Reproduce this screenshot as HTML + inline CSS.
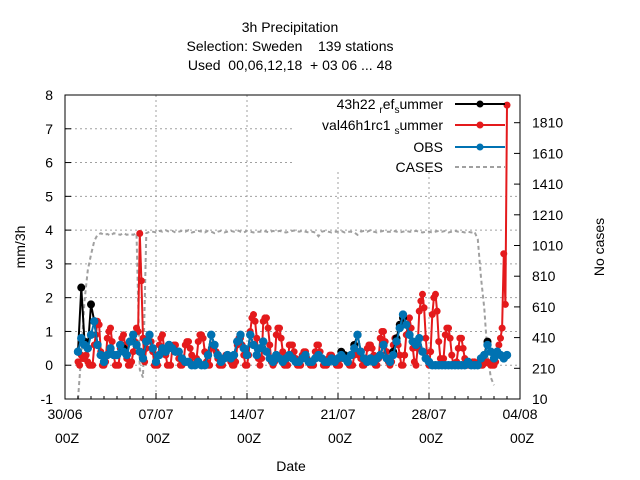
<!DOCTYPE html>
<html><head><meta charset="utf-8"><style>
body{margin:0;background:#fff}
svg{display:block;font-family:"Liberation Sans",sans-serif}
</style></head><body>
<svg id="chart" width="640" height="480" viewBox="0 0 640 480">
<g font-size="14" text-anchor="middle" fill="#000">
<text x="290" y="32">3h Precipitation</text>
<text x="290" y="51" xml:space="preserve">Selection: Sweden    139 stations</text>
<text x="290" y="70" xml:space="preserve">Used  00,06,12,18  + 03 06 ... 48</text>
<text x="291" y="471">Date</text>
<text transform="translate(25,247) rotate(-90)">mm/3h</text>
<text transform="translate(604,247) rotate(-90)">No cases</text>
</g>
<g id="grid"></g>
<g id="series"></g>
<g id="axes"></g>
<g id="legend"></g>
</svg>
<script>
const days0 = 1; // first sample at 01/07 00Z
const xTickLabels = ["30/06","07/07","14/07","21/07","28/07","04/08"];
const yTickLabels = [-1,0,1,2,3,4,5,6,7,8];
const y2TickLabels = [10,210,410,610,810,1010,1210,1410,1610,1810];
// 6-hourly
const ref = [0.4,2.3,0.7,0.5, 1.8,1.3,0.6,0.3, 0.1,0.3,0.5,0.3, 0.3,0.6,0.5,0.3, 0.7,0.9,0.6,0.4, 0.2,0.7,0.9,0.5, 0.1,0.3,0.5,0.4, 0.6,0.5,0.4,0.4, 0.2,0.1,0.1,0.0, 0.0,0.1,0.0,0.0, 0.3,0.9,0.6,0.3, 0.1,0.2,0.3,0.2, 0.3,0.7,0.9,0.5, 0.3,0.9,0.6,0.3, 0.5,0.7,0.4,0.2, 0.1,0.3,0.2,0.1, 0.2,0.3,0.2,0.1, 0.1,0.2,0.3,0.1, 0.1,0.2,0.3,0.2, 0.1,0.1,0.2,0.1, 0.2,0.4,0.3,0.1, 0.3,0.6,0.9,0.4, 0.2,0.1,0.2,0.1, 0.2,0.3,0.6,0.2, 0.1,0.4,0.8,1.2, 1.4,1.2,0.9,0.7, 0.6,0.8,0.4,0.2, 0.1,0.0,0.0,0.0, 0.0,0.0,0.0,0.0, 0.0,0.0,0.0,0.0, 0.1,0.0,0.0,0.0, 0.2,0.3,0.7,0.4, 0.2,0.4,0.3,0.2, 0.3];
// 3-hourly
const exp = [
0.1,0.0,0.3,0.2,0.2,0.3,0.1,0.0,
0.0,0.0,0.6,0.9,1.3,1.2,0.4,0.0,
0.0,0.1,0.8,1.0,1.1,0.7,0.3,0.0,
0.0,0.0,0.5,0.8,0.9,0.6,0.2,0.0,
0.0,0.1,0.4,0.7,1.1,1.0,3.9,2.5,
0.8,0.1,0.5,0.8,0.9,0.7,0.4,0.0,
0.0,0.0,0.6,0.8,0.9,0.5,0.3,0.0,
0.0,0.0,0.5,0.6,0.6,0.4,0.2,0.0,
0.0,0.1,0.6,0.7,0.7,0.5,0.3,0.0,
0.0,0.2,0.7,0.9,0.9,0.8,0.4,0.1,
0.0,0.0,0.5,0.6,0.6,0.4,0.2,0.0,
0.0,0.0,0.2,0.3,0.3,0.2,0.1,0.0,
0.0,0.1,0.6,0.8,0.8,0.6,0.3,0.0,
0.0,0.3,1.0,1.4,1.5,1.3,0.8,0.2,
0.0,0.2,1.3,1.4,1.4,1.1,0.6,0.1,
0.0,0.1,0.9,1.1,1.1,0.8,0.4,0.0,
0.0,0.0,0.6,0.6,0.6,0.4,0.2,0.0,
0.0,0.0,0.3,0.4,0.4,0.2,0.1,0.0,
0.0,0.0,0.4,0.6,0.6,0.4,0.2,0.0,
0.0,0.0,0.2,0.3,0.3,0.2,0.1,0.0,
0.0,0.0,0.2,0.3,0.3,0.2,0.1,0.0,
0.0,0.0,0.3,0.4,0.4,0.3,0.2,0.0,
0.0,0.1,0.5,0.6,0.6,0.5,0.3,0.0,
0.0,0.2,0.8,1.0,1.0,0.7,0.4,0.1,
0.0,0.1,0.6,0.8,0.8,0.6,0.3,0.0,
0.0,0.3,0.9,1.2,1.4,1.1,0.5,0.1,
0.0,0.5,1.6,1.9,2.1,1.7,0.8,0.2,
0.0,0.4,1.5,2.0,2.1,1.6,0.7,0.2,
0.0,0.2,0.9,1.1,1.1,0.8,0.3,0.0,
0.0,0.1,0.5,0.8,0.8,0.5,0.2,0.0,
0.0,0.0,0.05,0.1,0.1,0.05,0.0,0.0,
0.0,0.0,0.05,0.1,0.1,0.05,0.0,0.0,
0.0,0.1,0.4,0.6,0.8,1.1,3.3,1.8,
7.7];
const obs = [0.4,0.8,0.6,0.5, 0.9,1.3,0.6,0.3, 0.1,0.3,0.5,0.3, 0.3,0.6,0.4,0.3, 0.7,0.9,0.6,0.4, 0.2,0.7,0.9,0.5, 0.1,0.3,0.5,0.4, 0.6,0.5,0.4,0.4, 0.2,0.1,0.1,0.0, 0.0,0.1,0.0,0.0, 0.3,0.9,0.6,0.3, 0.1,0.2,0.3,0.2, 0.3,0.7,0.9,0.5, 0.3,0.9,0.6,0.3, 0.5,0.7,0.4,0.2, 0.1,0.3,0.2,0.1, 0.2,0.3,0.2,0.1, 0.1,0.2,0.3,0.1, 0.1,0.2,0.3,0.2, 0.1,0.1,0.2,0.1, 0.2,0.3,0.2,0.1, 0.3,0.5,0.9,0.4, 0.2,0.1,0.2,0.1, 0.2,0.3,0.6,0.2, 0.1,0.3,0.7,1.1, 1.5,1.2,0.9,0.7, 0.6,0.8,0.4,0.2, 0.1,0.0,0.0,0.0, 0.0,0.0,0.0,0.0, 0.0,0.0,0.0,0.0, 0.1,0.0,0.0,0.0, 0.2,0.3,0.6,0.4, 0.2,0.4,0.3,0.2, 0.3];
const cases = [10,300,650,850, 950,1040,1080,1090, 1080,1085,1075,1090, 1085,1080,1090,1080, 1085,1080,1090,200, 150,1090,1100,1100, 1095,1105,1100,1110, 1100,1105,1095,1100, 1105,1100,1110,1095, 1100,1105,1100,1095, 1105,1100,1090,1100, 1105,1095,1100,1105, 1100,1110,1100,1095, 1105,1100,1095,1100, 1100,1105,1100,1095, 1105,1100,1105,1100, 1095,1100,1105,1110, 1100,1105,1100,1095, 1100,1095,1070,1100, 1105,1100,1095,1100, 1100,1105,1095,1100, 1100,1095,1080,1100, 1105,1100,1110,1100, 1095,1100,1105,1100, 1100,1105,1100,1095, 1100,1105,1100,1100, 1105,1100,1095,1100, 1100,1095,1100,1105, 1100,1105,1095,1100, 1105,1100,1100,1095, 1100,1095,1100,1050, 800,600,300,150, 100];

const NS="http://www.w3.org/2000/svg";
const L=65,R=520,T=95,B=399;
const xS=d=>L+(d/35)*(R-L);
const yS=v=>T+(8-v)*(B-T)/9;
const y2S=c=>B-(c-10)*(30.7/200);
function mk(tag,attrs,parent){const e=document.createElementNS(NS,tag);for(const k in attrs)e.setAttribute(k,attrs[k]);parent.appendChild(e);return e;}
const grid=document.getElementById('grid'),ser=document.getElementById('series'),axes=document.getElementById('axes'),leg=document.getElementById('legend');

yTickLabels.forEach(v=>{
  if(v>-1&&v<8){const xe=(v>=6)?295:R;const g=mk('line',{x1:L,x2:xe,y1:yS(v),y2:yS(v),stroke:'#a0a0a0','stroke-dasharray':'2,3','stroke-width':1},grid);
  
  }
});
xTickLabels.forEach((t,i)=>{
  if(i>0&&i<5){const x=xS(i*7);const g=mk('line',{x1:x,x2:x,y1:(x>295?172:T),y2:B,stroke:'#a0a0a0','stroke-dasharray':'2,3','stroke-width':1},grid);
  
  }
});

const cl=mk('polyline',{points:cases.map((c,i)=>xS(days0+i*0.25).toFixed(1)+','+y2S(c).toFixed(1)).join(' '),fill:'none',stroke:'#a0a0a0','stroke-width':2,'stroke-dasharray':'4,3'},ser);



function series(arr,step,color,name,r){
  const g=mk('g',{},ser);
  
  
  mk('polyline',{points:arr.map((v,i)=>xS(days0+i*step).toFixed(1)+','+yS(v).toFixed(1)).join(' '),fill:'none',stroke:color,'stroke-width':2},g);
  arr.forEach((v,i)=>{const c=mk('circle',{cx:xS(days0+i*step),cy:yS(v),r:r,fill:color},g);
    
    });
}
series(exp,0.125,'#e41a1c','val46-series',3.5);
series(ref,0.25,'#000000','ref43-series',4);
series(obs,0.25,'#0072b2','obs-series',4.2);

const fr=mk('rect',{x:L,y:T,width:R-L,height:B-T,fill:'none',stroke:'#000','stroke-width':1},axes);


yTickLabels.forEach(v=>{
  mk('line',{x1:L,x2:L+6,y1:yS(v),y2:yS(v),stroke:'#000'},axes);
  const t=mk('text',{x:53,y:yS(v)+5,'text-anchor':'end','font-size':14},axes);t.textContent=v;
  
  
});
y2TickLabels.forEach(c=>{
  mk('line',{x1:R-6,x2:R,y1:y2S(c),y2:y2S(c),stroke:'#000'},axes);
  const t=mk('text',{x:532,y:y2S(c)+5,'font-size':14},axes);t.textContent=c;
  
  
});
for(let d=1;d<35;d++){mk('line',{x1:xS(d),x2:xS(d),y1:B,y2:B-3,stroke:'#000'},axes);}
xTickLabels.forEach((lab,i)=>{
  const x=xS(i*7);
  mk('line',{x1:x,x2:x,y1:B,y2:B-6,stroke:'#000'},axes);
  const t=mk('text',{x:x,y:419,'text-anchor':'middle','font-size':14},axes);t.textContent=lab;
  
  
  const t2=mk('text',{x:x+2,y:443,'text-anchor':'middle','font-size':14},axes);t2.textContent='00Z';
  
  
});

const items=[['43h22','#000',false],['val46h1rc1','#e41a1c',false],['OBS','#0072b2',false],['CASES','#a0a0a0',true]];
const ly=[109,130,152,172];
items.forEach((it,i)=>{
  const g=mk('g',{},leg);
  
  
  const t=mk('text',{x:443,y:ly[i],'text-anchor':'end','font-size':14},g);
  if(i===0){t.innerHTML='43h22 <tspan font-size="10" dy="4">r</tspan><tspan dy="-4">ef</tspan><tspan font-size="10" dy="4">s</tspan><tspan dy="-4">ummer</tspan>';}
  else if(i===1){t.innerHTML='val46h1rc1 <tspan font-size="10" dy="4">s</tspan><tspan dy="-4">ummer</tspan>';}
  else t.textContent=it[0];
  const yy=ly[i]-5;
  mk('line',{x1:455,x2:505,y1:yy,y2:yy,stroke:it[1],'stroke-width':2,'stroke-dasharray':it[2]?'4,3':'none'},g);
  if(!it[2])mk('circle',{cx:480,cy:yy,r:3.5,fill:it[1]},g);
});
</script>
</body></html>
